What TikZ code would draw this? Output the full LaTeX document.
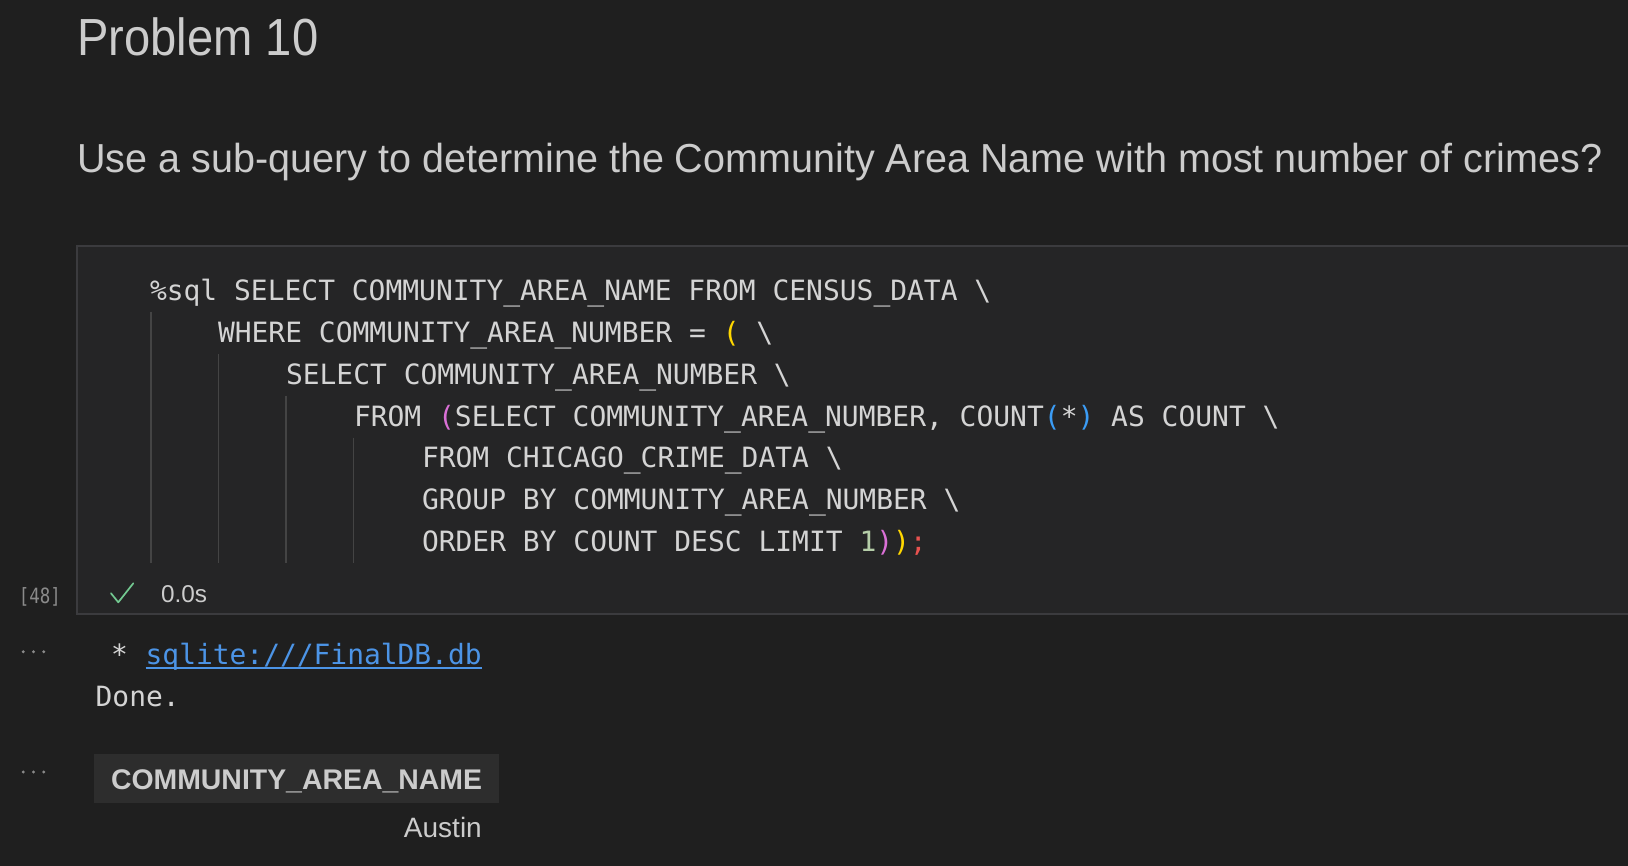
\documentclass[tikz,border=0pt]{standalone}
\usepackage{fontspec}
\usepackage{graphicx}
\setmainfont{Liberation Sans}
\setmonofont{DejaVu Sans Mono}
\definecolor{bg}{HTML}{1F1F1F}
\definecolor{cellbg}{HTML}{252526}
\definecolor{cellborder}{HTML}{3B3B3E}
\definecolor{guide}{HTML}{444444}
\definecolor{uifg}{HTML}{CCCCCC}
\definecolor{codefg}{HTML}{D4D4D4}
\definecolor{gutter}{HTML}{8A8A8A}
\definecolor{cy}{HTML}{FFD700}
\definecolor{cp}{HTML}{DA70D6}
\definecolor{cb}{HTML}{3B9CF5}
\definecolor{cn}{HTML}{B5CEA8}
\definecolor{cr}{HTML}{E8524F}
\definecolor{linkblue}{HTML}{4C94E6}
\definecolor{okgreen}{HTML}{73C991}
\definecolor{thbg}{HTML}{2D2D2D}
\newcommand\fitw[2]{\resizebox{#1}{\height}{#2}}
\tikzset{
  txt/.style={anchor=base west, inner sep=0pt, outer sep=0pt},
  codeline/.style={txt, text=codefg, font=\ttfamily\fontsize{27.95}{34}\selectfont},
  outline/.style={txt, text=codefg, font=\ttfamily\fontsize{27.9}{34}\selectfont},
  guideline/.style={draw=guide, line width=1.3pt},
  moredot/.style={fill=gutter, draw=none},
}
\begin{document}
\begin{tikzpicture}[x=1pt,y=-1pt]
\useasboundingbox (0,0) rectangle (1628,866);
\fill[bg] (0,0) rectangle (1628,866);

% headings
\node[txt, text=uifg] (title) at (77.3,55.7)
  {\fitw{241pt}{\fontsize{52.2}{60}\selectfont Problem 10}};
\node[txt, text=uifg] (question) at (77.3,172.3)
  {\fitw{1525pt}{\fontsize{40.5}{48}\selectfont Use a sub-query to determine the Community Area Name with most number of crimes?}};

% code cell
\draw[fill=cellbg, draw=cellborder, line width=2pt] (77,246.5) rectangle (1660,614);

% indent guides
\draw[guideline] (151,311.7) -- (151,563);
\draw[guideline] (218.5,354) -- (218.5,563);
\draw[guideline] (286,395.7) -- (286,563);
\draw[guideline] (353.3,437.5) -- (353.3,563);

% code lines
\node[codeline] (l1) at (150,300.7) {\%sql SELECT COMMUNITY\_AREA\_NAME FROM CENSUS\_DATA \textbackslash};
\node[codeline] (l2) at (218,342.5) {WHERE COMMUNITY\_AREA\_NUMBER = {\color{cy}(} \textbackslash};
\node[codeline] (l3) at (286,384.3) {SELECT COMMUNITY\_AREA\_NUMBER \textbackslash};
\node[codeline] (l4) at (354,426.1) {FROM {\color{cp}(}SELECT COMMUNITY\_AREA\_NUMBER, COUNT{\color{cb}(}*{\color{cb})} AS COUNT \textbackslash};
\node[codeline] (l5) at (422,467.9) {FROM CHICAGO\_CRIME\_DATA \textbackslash};
\node[codeline] (l6) at (422,509.7) {GROUP BY COMMUNITY\_AREA\_NUMBER \textbackslash};
\node[codeline] (l7) at (422,551.5) {ORDER BY COUNT DESC LIMIT {\color{cn}1}{\color{cp})}{\color{cy})}{\color{cr};}};

% cell status row
\node[txt, text=gutter] (count) at (19,603)
  {\fitw{42pt}{\ttfamily\fontsize{21}{24}\selectfont [48]}};
\coordinate (ck1) at (111,593.3);
\coordinate (ck2) at (118.3,602.3);
\coordinate (ck3) at (133.3,583.3);
\draw[okgreen, line width=1.7pt, line cap=round, line join=round] (ck1) -- (ck2) -- (ck3);
\node[txt, text=uifg] (time) at (161,602)
  {\fitw{46pt}{\fontsize{24.3}{28}\selectfont 0.0s}};

% output 1
\foreach \dx [count=\i] in {23.3,33.5,43.7} {
  \fill[moredot] (\dx,651.7) circle (1.6pt);
}
\node[outline] (star) at (111,664.3) {*};
\node[outline, text=linkblue] (link) at (145.7,664.3) {sqlite:///FinalDB.db};
\draw[linkblue, line width=1.6pt] ([yshift=-3.4pt]link.base west) -- ([yshift=-3.4pt]link.base east);
\node[outline] (done) at (95.7,706.7) {Done.};

% output 2
\foreach \dx [count=\i] in {23.3,33.5,43.7} {
  \fill[moredot] (\dx,772) circle (1.6pt);
}
\fill[thbg] (94,754) rectangle (499,802.7);
\node[txt, text=uifg] (header) at (111,789.3)
  {\fitw{371pt}{\fontsize{28.4}{34}\selectfont\bfseries COMMUNITY\_AREA\_NAME}};
\node[anchor=base east, inner sep=0pt, text=uifg, font=\fontsize{28}{34}\selectfont] (austin) at (482,837.7) {Austin};
\end{tikzpicture}
\end{document}
